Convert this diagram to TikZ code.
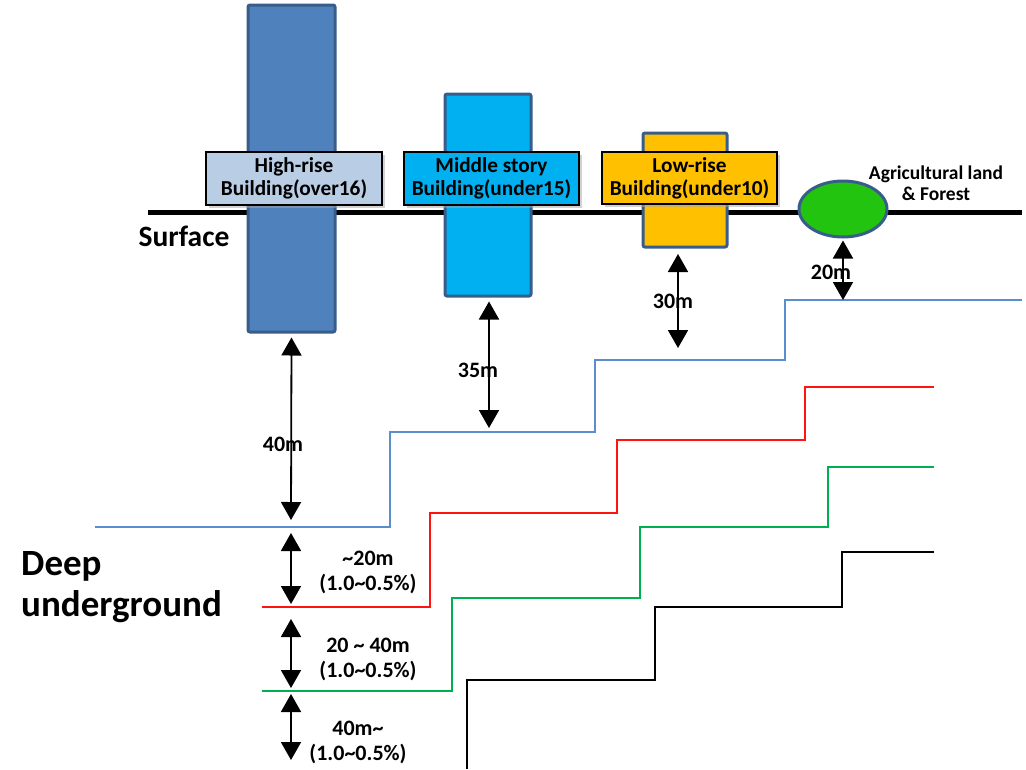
\documentclass[tikz,border=0pt]{standalone}
\usepackage{fontspec}
\setmainfont{Carlito}
\usetikzlibrary{arrows.meta,shapes.geometric,shadows}

\definecolor{bldedge}{RGB}{56,93,138}
\definecolor{highfill}{RGB}{79,129,189}
\definecolor{highlab}{RGB}{185,205,229}
\definecolor{midfill}{RGB}{0,176,240}
\definecolor{lowfill}{RGB}{255,192,0}
\definecolor{farmfill}{RGB}{34,196,15}
\definecolor{bluestep}{RGB}{91,142,207}
\definecolor{redstep}{RGB}{255,20,20}
\definecolor{greenstep}{RGB}{0,176,80}

\tikzset{
  building/.style={draw=bldedge, line width=3pt, rounded corners=2pt, inner sep=0pt},
  tag/.style={draw=black, line width=1.8pt, inner sep=0pt, align=center,
    font=\bfseries\fontsize{21.3}{23}\selectfont,
    drop shadow={shadow xshift=3pt, shadow yshift=-3pt, fill=black!35}},
  dim/.style={line width=1.8pt, {Triangle[width=20pt,length=18pt]}-{Triangle[width=20pt,length=18pt]}},
  dimlabel/.style={font=\bfseries\fontsize{22}{25}\selectfont, align=center, inner sep=0pt},
  stairline/.style={line width=2pt, line join=miter}
}

\begin{document}
\begin{tikzpicture}[x=1pt,y=-1pt]
\useasboundingbox (0,0) rectangle (1026,769);

% ground surface
\coordinate (surfL) at (148,212);
\coordinate (surfR) at (1022,212);
\draw[line width=5pt] (surfL) -- (surfR);
\node[font=\bfseries\fontsize{29.5}{32}\selectfont, inner sep=0pt] (surface) at (184,236) {Surface};

% buildings
\node[building, fill=highfill, minimum width=87pt, minimum height=327pt] (high) at (291.5,168.5) {};
\node[building, fill=midfill, minimum width=86pt, minimum height=202pt] (mid) at (488,195) {};
\node[building, fill=lowfill, minimum width=84pt, minimum height=114pt] (low) at (685,190) {};

% building tags
\node[tag, fill=highlab, minimum width=176pt, minimum height=53pt] (highlab) at (294,178.5) {High-rise\\Building(over16)};
\node[tag, fill=midfill, minimum width=175pt, minimum height=53pt] (midlab) at (491.5,178.5) {Middle story\\Building(under15)};
\node[tag, fill=lowfill, minimum width=175pt, minimum height=52pt] (lowlab) at (689.5,178) {Low-rise\\Building(under10)};

% agricultural land
\node[ellipse, draw=bldedge, line width=3pt, fill=farmfill, minimum width=88pt, minimum height=56pt, inner sep=0pt] (farm) at (843,209) {};
\node[font=\bfseries\fontsize{19.5}{21}\selectfont, align=center, inner sep=0pt] (farmlab) at (936,183) {Agricultural land\\\& Forest};

% stepped depth limits
\draw[stairline, bluestep] (95,527) -| (390,432) -| (595,360) -| (785,300) -- (1022,300);
\draw[stairline, redstep] (262,607) -| (430,513) -| (617,440) -| (805,387) -- (934,387);
\draw[stairline, greenstep] (262,691) -| (452,598) -| (640,527) -| (828,467) -- (934,467);
\draw[stairline, black, line width=1.6pt] (467,769) |- (655,680) |- (842,607) |- (934,552);

% end points of the depth arrows
\coordinate (d40) at (291,520);
\coordinate (d35) at (489,428);
\coordinate (d30t) at (678,254);
\coordinate (d30) at (678,348);
\coordinate (d20) at (843,300);
\coordinate (u1t) at (291,533);
\coordinate (u1b) at (291,604);
\coordinate (u2t) at (291,619);
\coordinate (u2b) at (291,688);
\coordinate (u3t) at (291,694);
\coordinate (u3b) at (291,760);

% depth arrows
\draw[dim] ([yshift=-4pt]high.south) -- (d40);
\draw[dim] ([xshift=1pt,yshift=-4pt]mid.south) -- (d35);
\draw[dim] (d30t) -- (d30);
\draw[dim] ([yshift=-2pt]farm.south) -- (d20);
\draw[dim] (u1t) -- (u1b);
\draw[dim] (u2t) -- (u2b);
\draw[dim] (u3t) -- (u3b);

% depth labels
\node[dimlabel] (l40) at (283,444) {40m};
\node[dimlabel] (l35) at (478,370) {35m};
\node[dimlabel] (l30) at (673,301) {30m};
\node[dimlabel] (l20) at (831,272) {20m};
\node[dimlabel] (ld1) at (368,572) {\textasciitilde20m\\(1.0\textasciitilde0.5\%)};
\node[dimlabel] (ld2) at (368,659) {20 \textasciitilde\ 40m\\(1.0\textasciitilde0.5\%)};
\node[dimlabel] (ld3) at (358,742) {40m\textasciitilde\\(1.0\textasciitilde0.5\%)};

% deep underground title
\node[font=\bfseries\fontsize{37}{41}\selectfont, align=left, anchor=west, inner sep=0pt] (deep) at (21,587) {Deep\\underground};
\end{tikzpicture}
\end{document}
